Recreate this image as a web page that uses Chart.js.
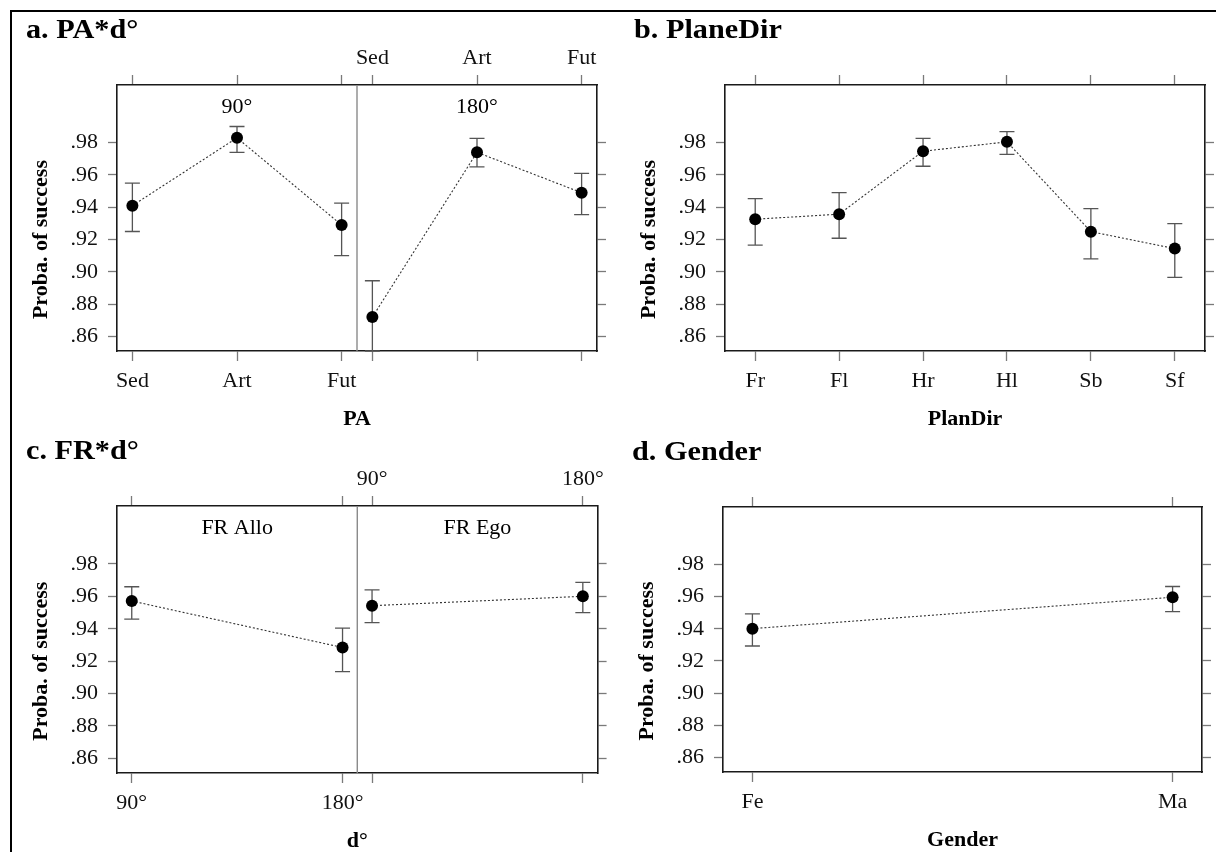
<!DOCTYPE html>
<html>
<head>
<meta charset="utf-8">
<title>Proba. of success</title>
<script src="https://cdn.jsdelivr.net/npm/chart.js@4.4.1/dist/chart.umd.min.js"></script>
<style>
  html, body { margin: 0; padding: 0; background: #fff; overflow: hidden; }
  #page { position: relative; width: 1216px; height: 852px; }
  #frame { position: absolute; left: 10px; top: 10px; right: 0; bottom: 0; border-left: 2px solid #000; border-top: 2px solid #000; }
  canvas { position: absolute; }
</style>
</head>
<body>
<div id="page">
  <div id="frame"></div>
  <canvas id="chartA" width="608" height="432" style="left:0;top:0"></canvas>
  <canvas id="chartB" width="608" height="432" style="left:608px;top:0"></canvas>
  <canvas id="chartC" width="608" height="420" style="left:0;top:432px"></canvas>
  <canvas id="chartD" width="608" height="420" style="left:608px;top:432px"></canvas>
</div>
<script>
// y axis, shared by all four panels
const probTicks = [0.86, 0.88, 0.90, 0.92, 0.94, 0.96, 0.98];
const probMin = 0.851;
const probMax = 1.0157;

// a. PA*d°
const paLevels = ['Sed', 'Art', 'Fut'];
const paStrips = ['90°', '180°'];
const pa90 = [0.941, 0.983, 0.929];
const pa90Lo = [0.925, 0.974, 0.910];
const pa90Hi = [0.955, 0.990, 0.9425];
const pa180 = [0.872, 0.974, 0.949];
const pa180Lo = [0.851, 0.965, 0.9355];
const pa180Hi = [0.8945, 0.9827, 0.961];

// b. PlaneDir
const dirLevels = ['Fr', 'Fl', 'Hr', 'Hl', 'Sb', 'Sf'];
const dirProb = [0.9326, 0.9357, 0.9747, 0.9805, 0.9249, 0.9144];
const dirLo = [0.9165, 0.9208, 0.9654, 0.9728, 0.908, 0.8966];
const dirHi = [0.9453, 0.949, 0.9827, 0.9868, 0.9391, 0.9299];

// c. FR*d°
const dLevels = ['90°', '180°'];
const frStrips = ['FR Allo', 'FR Ego'];
const frAllo = [0.9571, 0.9284];
const frAlloLo = [0.9459, 0.9135];
const frAlloHi = [0.9659, 0.9404];
const frEgo = [0.9542, 0.960];
const frEgoLo = [0.9437, 0.9499];
const frEgoHi = [0.9639, 0.9686];

// d. Gender
const genderLevels = ['Fe', 'Ma'];
const genderProb = [0.9401, 0.9596];
const genderLo = [0.9293, 0.9507];
const genderHi = [0.9493, 0.9663];

Chart.defaults.font.family = '"Liberation Serif", "Times New Roman", serif';
Chart.defaults.color = '#111';

// error bars, strip dividers and the text around each panel
const panelDeco = {
  id: 'panelDeco',
  beforeDatasetsDraw(chart, args, o) {
    const { ctx, chartArea: a, scales: { x, y } } = chart;
    ctx.save();
    ctx.strokeStyle = '#8a8a8a';
    ctx.lineWidth = 1.4;
    o.dividers.forEach(v => {
      const px = x.getPixelForValue(v);
      ctx.beginPath();
      ctx.moveTo(px, a.top);
      ctx.lineTo(px, a.bottom);
      ctx.stroke();
    });
    ctx.strokeStyle = '#555';
    ctx.lineWidth = 1.3;
    chart.data.datasets.forEach(ds => ds.data.forEach((pt, i) => {
      const px = x.getPixelForValue(pt.x);
      const top = y.getPixelForValue(ds.hi[i]);
      const bot = y.getPixelForValue(ds.lo[i]);
      ctx.beginPath();
      ctx.moveTo(px, top); ctx.lineTo(px, bot);
      ctx.moveTo(px - 7.5, top); ctx.lineTo(px + 7.5, top);
      ctx.moveTo(px - 7.5, bot); ctx.lineTo(px + 7.5, bot);
      ctx.stroke();
    }));
    ctx.restore();
  },
  afterDraw(chart, args, o) {
    const { ctx, chartArea: a, scales: { x, y } } = chart;
    ctx.save();
    ctx.fillStyle = '#000';

    // panel letter + name, a little wider like the original print
    ctx.save();
    ctx.font = 'bold 28px "Liberation Serif"';
    ctx.textAlign = 'left';
    ctx.textBaseline = 'alphabetic';
    ctx.translate(a.left - 91, a.top - 47);
    ctx.scale(1.08, 1);
    ctx.fillText(o.title, 0, 0);
    ctx.restore();

    ctx.font = '22px "Liberation Serif"';
    ctx.textAlign = 'center';
    ctx.textBaseline = 'middle';
    o.strips.forEach(s => ctx.fillText(s.text, x.getPixelForValue(s.at), a.top + 22));

    ctx.font = 'bold 22px "Liberation Serif"';
    ctx.fillText(o.xTitle, (a.left + a.right) / 2, a.bottom + 68);
    ctx.translate(a.left - 76, y.getPixelForValue(0.92));
    ctx.rotate(-Math.PI / 2);
    ctx.fillText('Proba. of success', 0, 0);
    ctx.restore();
  }
};

function buildPanel(id, p) {
  const canvas = document.getElementById(id);
  const W = canvas.width, H = canvas.height;
  const n = p.levels.length;
  const step = n - 1 + 2 * p.pad;
  const many = p.groups.length > 1;

  const tickInfo = [];
  p.groups.forEach((g, gi) => p.levels.forEach((lab, i) => {
    tickInfo.push({ value: i + gi * step, label: lab, group: gi });
  }));
  const xTickValues = tickInfo.map(t => t.value);
  const xLabel = grp => (v, i) => (tickInfo[i] && tickInfo[i].group === grp ? tickInfo[i].label : '');

  const datasets = p.groups.map((g, gi) => ({
    label: g.name,
    data: g.values.map((v, i) => ({ x: i + gi * step, y: v })),
    lo: g.lo,
    hi: g.hi,
    showLine: true,
    borderColor: '#333',
    borderWidth: 1.1,
    borderDash: [2, 2],
    pointRadius: 6,
    pointHoverRadius: 6,
    pointBackgroundColor: '#000',
    pointBorderWidth: 0
  }));

  const xMarks = { display: true, drawOnChartArea: false, drawTicks: true, tickLength: 10, tickColor: '#7a7a7a', tickWidth: 1.3 };
  const yMarks = { display: true, drawOnChartArea: false, drawTicks: true, tickLength: 9, tickColor: '#7a7a7a', tickWidth: 1.3 };
  const frame = { display: true, color: '#1a1a1a', width: 1.6 };
  const fixTicks = list => s => { s.ticks = list.map(v => ({ value: v })); };
  const tickFont = { size: 22 };

  new Chart(canvas, {
    type: 'scatter',
    data: { datasets },
    options: {
      responsive: false,
      animation: false,
      events: [],
      layout: { padding: 0 },
      plugins: {
        legend: { display: false },
        tooltip: { enabled: false },
        panelDeco: {
          title: p.title,
          xTitle: p.xTitle,
          dividers: many ? p.groups.slice(1).map((g, gi) => gi * step + n - 1 + p.pad) : [],
          strips: many ? p.groups.map((g, gi) => ({ text: g.name, at: (n - 1) / 2 + gi * step })) : []
        }
      },
      scales: {
        x: {
          type: 'linear', position: 'bottom', min: -p.pad, max: p.groups.length * step - p.pad,
          afterBuildTicks: fixTicks(xTickValues),
          afterFit: s => { s.height = H - p.box.bottom; },
          grid: xMarks, border: frame,
          ticks: { autoSkip: false, maxRotation: 0, padding: 7, font: tickFont, callback: xLabel(0) }
        },
        xTop: {
          type: 'linear', position: 'top', min: -p.pad, max: p.groups.length * step - p.pad,
          afterBuildTicks: fixTicks(xTickValues),
          afterFit: s => { s.height = p.box.top; },
          grid: xMarks, border: frame,
          ticks: { autoSkip: false, maxRotation: 0, padding: 4, font: tickFont, callback: xLabel(many ? 1 : -1) }
        },
        y: {
          type: 'linear', position: 'left', min: probMin, max: probMax,
          afterBuildTicks: fixTicks(probTicks),
          afterFit: s => { s.width = p.box.left; },
          grid: yMarks, border: frame,
          ticks: { autoSkip: false, padding: 10, font: tickFont, callback: v => v.toFixed(2).replace(/^0/, '') }
        },
        yRight: {
          type: 'linear', position: 'right', min: probMin, max: probMax,
          afterBuildTicks: fixTicks(probTicks),
          afterFit: s => { s.width = W - p.box.right; },
          grid: yMarks, border: frame,
          ticks: { autoSkip: false, padding: 0, font: tickFont, callback: () => '' }
        }
      }
    },
    plugins: [panelDeco]
  });
}

buildPanel('chartA', {
  title: 'a. PA*d°', xTitle: 'PA', levels: paLevels, pad: 0.147,
  box: { left: 117, right: 597, top: 85, bottom: 351 },
  groups: [
    { name: paStrips[0], values: pa90, lo: pa90Lo, hi: pa90Hi },
    { name: paStrips[1], values: pa180, lo: pa180Lo, hi: pa180Hi }
  ]
});

buildPanel('chartB', {
  title: 'b. PlaneDir', xTitle: 'PlanDir', levels: dirLevels, pad: 0.36,
  box: { left: 117, right: 597, top: 85, bottom: 351 },
  groups: [{ name: 'PlaneDir', values: dirProb, lo: dirLo, hi: dirHi }]
});

buildPanel('chartC', {
  title: 'c. FR*d°', xTitle: 'd°', levels: dLevels, pad: 0.07,
  box: { left: 117, right: 599, top: 74, bottom: 341 },
  groups: [
    { name: frStrips[0], values: frAllo, lo: frAlloLo, hi: frAlloHi },
    { name: frStrips[1], values: frEgo, lo: frEgoLo, hi: frEgoHi }
  ]
});

buildPanel('chartD', {
  title: 'd. Gender', xTitle: 'Gender', levels: genderLevels, pad: 0.07,
  box: { left: 115, right: 594, top: 75, bottom: 340 },
  groups: [{ name: 'Gender', values: genderProb, lo: genderLo, hi: genderHi }]
});
</script>
</body>
</html>
